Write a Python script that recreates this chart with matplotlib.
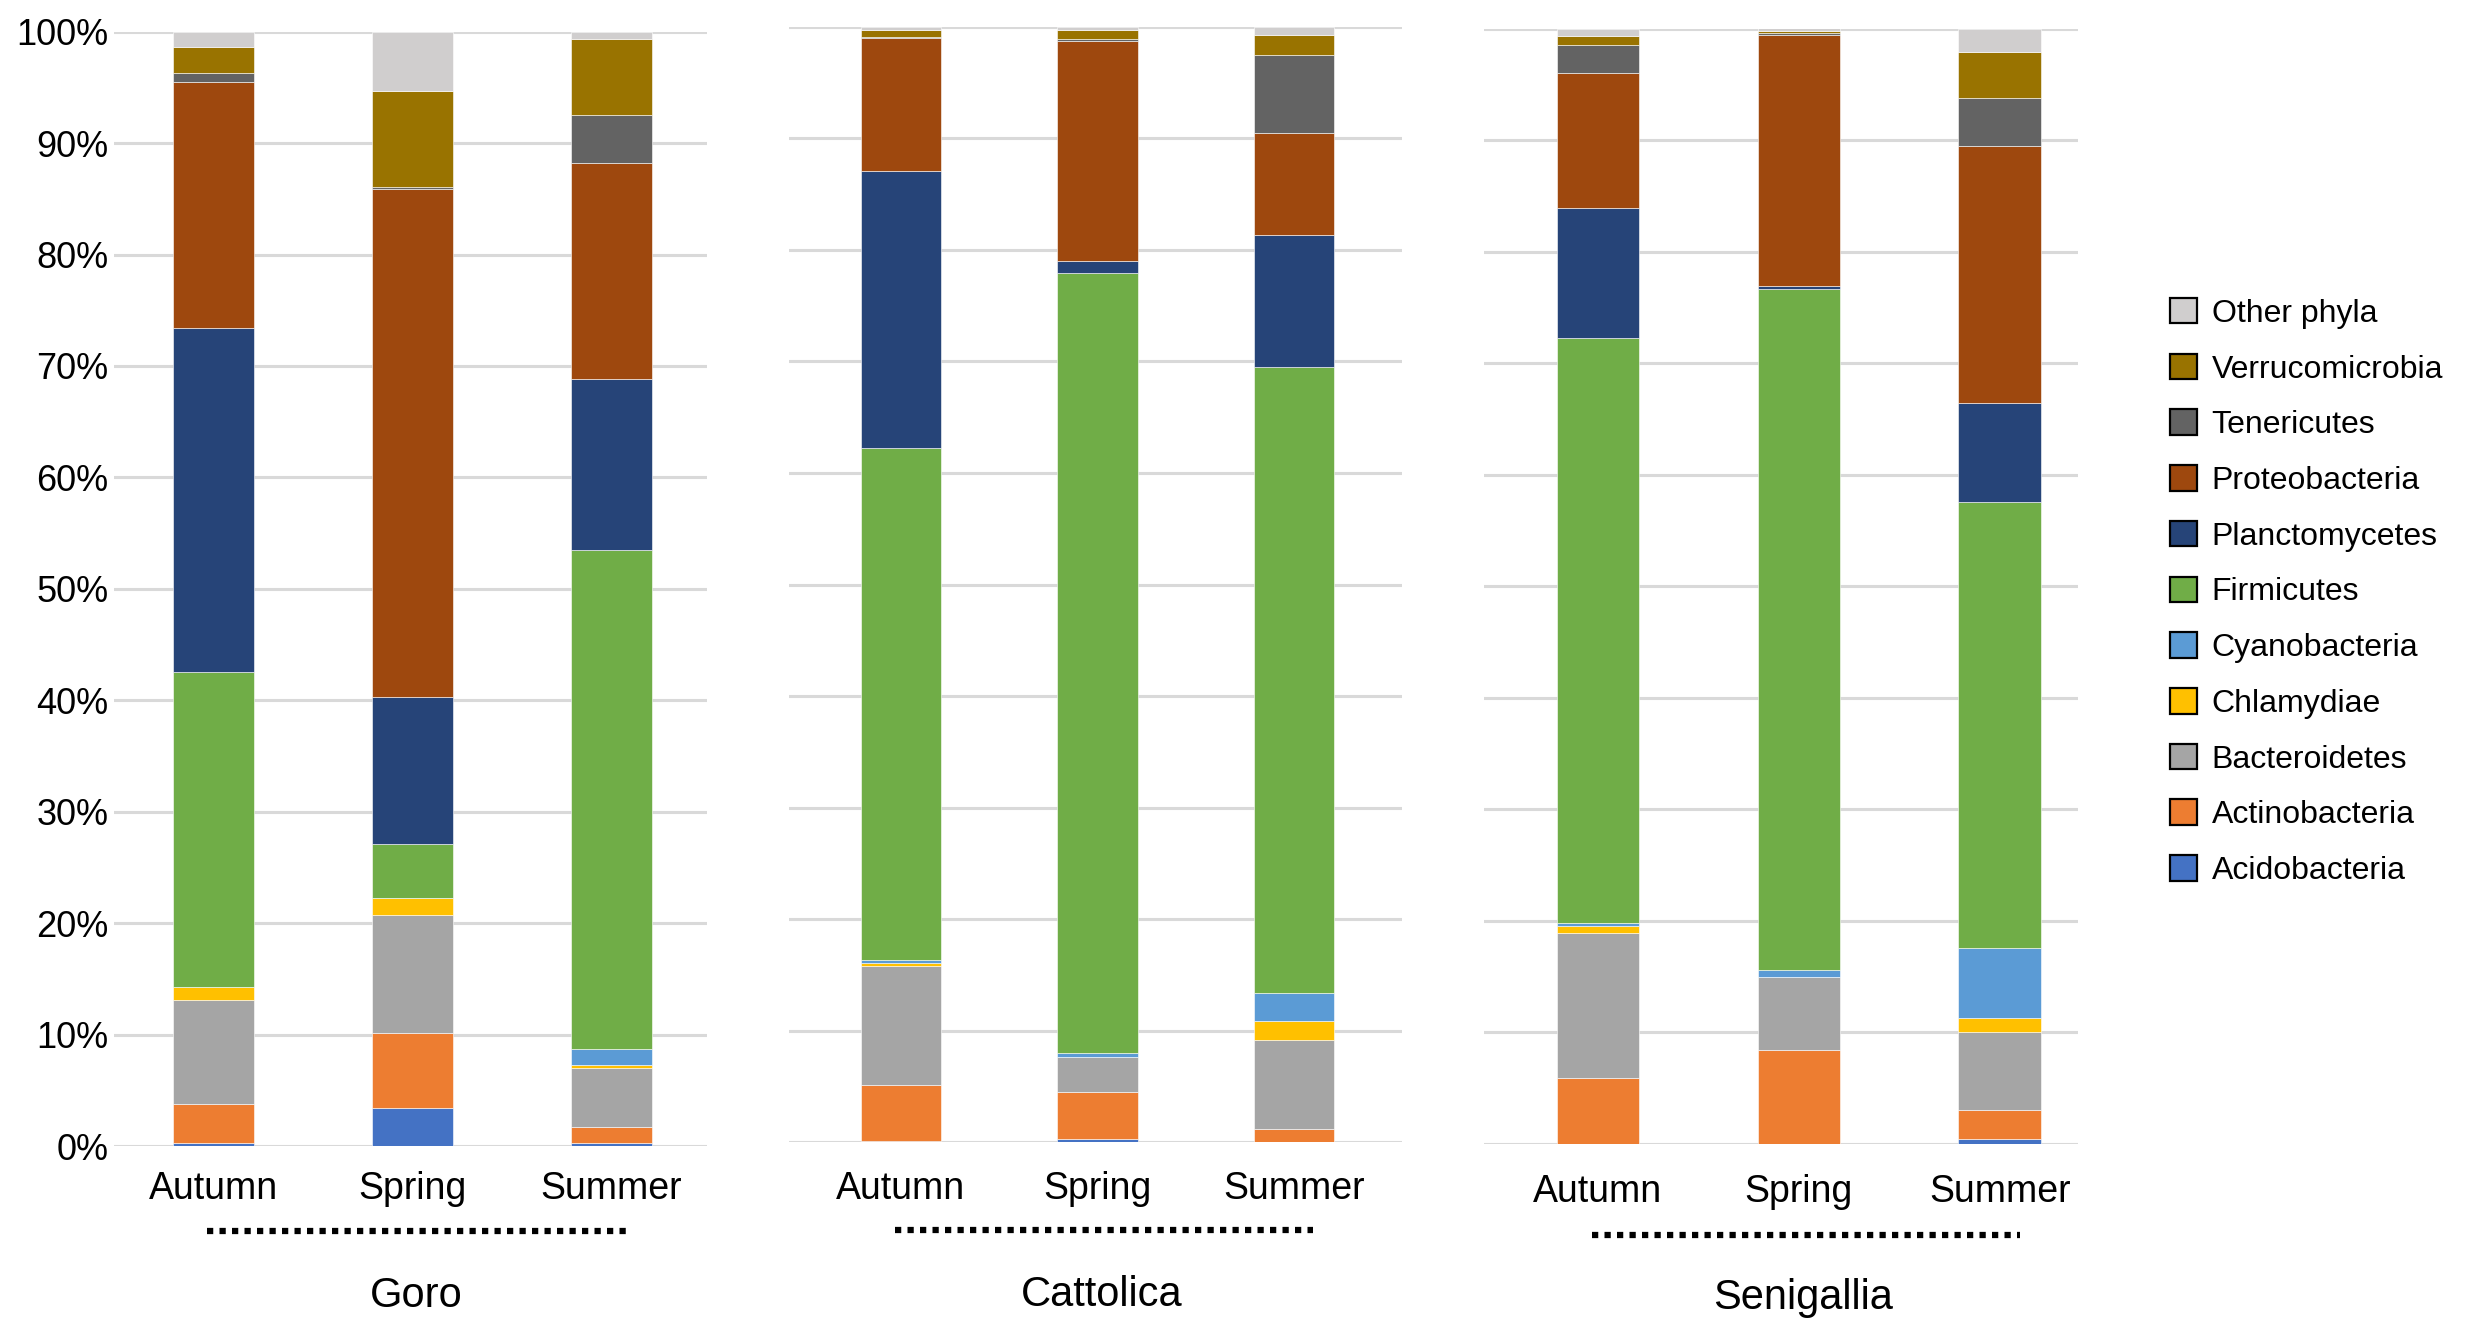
"""Phylum-level relative abundance per site and season (stacked 100% bars)."""
import matplotlib
matplotlib.use("Agg")
import matplotlib.pyplot as plt
from matplotlib.patches import Patch
from matplotlib.transforms import blended_transform_factory
import numpy as np

plt.rcParams["font.family"] = ["Liberation Sans", "DejaVu Sans"]

sites = ["Goro", "Cattolica", "Senigallia"]
seasons = ["Autumn", "Spring", "Summer"]

# relative abundance (%), order: Goro A/Sp/Su, Cattolica A/Sp/Su, Senigallia A/Sp/Su
acidobacteria   = [0.25, 3.45, 0.25, 0.10, 0.30, 0.00, 0.00, 0.00, 0.40]
actinobacteria  = [3.50, 6.75, 1.45, 5.00, 4.15, 1.15, 5.85, 8.40, 2.60]
bacteroidetes   = [9.40, 10.50, 5.30, 10.70, 3.20, 8.05, 13.05, 6.55, 7.00]
chlamydiae      = [1.10, 1.60, 0.30, 0.30, 0.00, 1.70, 0.65, 0.00, 1.25]
cyanobacteria   = [0.00, 0.00, 1.40, 0.20, 0.35, 2.50, 0.20, 0.65, 6.25]
firmicutes      = [28.30, 4.80, 44.80, 45.90, 69.90, 56.10, 52.45, 61.00, 40.00]
planctomycetes  = [30.90, 13.20, 15.30, 24.90, 1.10, 11.80, 11.70, 0.30, 8.90]
proteobacteria  = [22.00, 45.60, 19.40, 11.90, 19.70, 9.20, 12.10, 22.50, 23.10]
tenericutes     = [0.80, 0.20, 4.30, 0.05, 0.20, 7.00, 2.50, 0.20, 4.30]
verrucomicrobia = [2.40, 8.60, 6.80, 0.65, 0.80, 1.80, 0.80, 0.20, 4.10]
other_phyla     = [1.35, 5.30, 0.70, 0.30, 0.30, 0.70, 0.70, 0.20, 2.10]

phyla = ["Acidobacteria", "Actinobacteria", "Bacteroidetes", "Chlamydiae",
         "Cyanobacteria", "Firmicutes", "Planctomycetes", "Proteobacteria",
         "Tenericutes", "Verrucomicrobia", "Other phyla"]
series = [acidobacteria, actinobacteria, bacteroidetes, chlamydiae, cyanobacteria,
          firmicutes, planctomycetes, proteobacteria, tenericutes, verrucomicrobia,
          other_phyla]
colors = ["#4472C4", "#ED7D31", "#A5A5A5", "#FFC000", "#5B9BD5", "#70AD47",
          "#264478", "#9E480E", "#636363", "#997300", "#D0CECE"]

W, H = 2477, 1318
# panel boxes in pixels: left, right, top (100%), bottom (0%), x limits,
# tick label pad (pt), dotted line offset and site name baseline offset (px below 0%)
panels = [
    (113.9, 707.0, 31.6, 1146.2, (-0.50, 2.48), 17.5, 84.5, 161.0),
    (788.9, 1401.9, 26.9, 1142.1, (-0.57, 2.55), 20.5, 87.5, 163.5),
    (1484.3, 2078.0, 28.5, 1143.5, (-0.565, 2.39), 22.0, 91.0, 165.5),
]


def main():
    fig = plt.figure(figsize=(W / 100, H / 100), dpi=100)
    data = np.array(series)
    x = np.arange(len(seasons))

    for p, site in enumerate(sites):
        left, right, top, bottom, xlim, tpad, dot_off, name_off = panels[p]
        ax_h = bottom - top
        ax = fig.add_axes([left / W, 1 - bottom / H, (right - left) / W, ax_h / H])
        vals = data[:, p * 3:(p + 1) * 3]
        base = np.zeros(len(seasons))
        for k in range(len(phyla)):
            ax.bar(x, vals[k], 0.41, bottom=base, color=colors[k],
                   edgecolor="white", linewidth=0.4, zorder=3)
            base += vals[k]

        ax.set_xlim(*xlim)
        ax.set_ylim(0, 100)
        ax.set_yticks(np.arange(0, 101, 10))
        ax.yaxis.grid(True, color="#D9D9D9", linewidth=2.2, zorder=0)
        ax.set_axisbelow(True)
        for s in ax.spines.values():
            s.set_visible(False)
        ax.set_xticks(x)
        ax.set_xticklabels(seasons, fontsize=27)
        ax.tick_params(axis="x", length=0, pad=tpad)
        if p == 0:
            ax.set_yticklabels([f"{v}%" for v in range(0, 101, 10)], fontsize=26)
            ax.tick_params(axis="y", length=0, pad=4)
        else:
            ax.tick_params(axis="y", length=0, labelleft=False)

        # dotted bracket under the season labels, then the site name
        tr = blended_transform_factory(ax.transData, ax.transAxes)
        y_dot = -dot_off / ax_h
        ax.plot([-0.03, 2.1], [y_dot, y_dot], transform=tr, color="black",
                linewidth=4.5, linestyle=(0, (1, 1)), clip_on=False,
                solid_capstyle="butt", dash_capstyle="butt")
        ax.text(1.02, -name_off / ax_h, site, transform=tr, fontsize=30,
                ha="center", va="baseline")

    handles = [Patch(facecolor=c, edgecolor="black", linewidth=1.6)
               for c in colors[::-1]]
    fig.legend(handles, phyla[::-1], loc="center left",
               bbox_to_anchor=(2170 / W, 1 - 592 / H), frameon=False,
               fontsize=23, handlelength=0.85, handleheight=0.85,
               handletextpad=0.45, labelspacing=0.78, borderpad=0,
               borderaxespad=0)

    fig.savefig("out.png", dpi=100)
    plt.close(fig)


if __name__ == "__main__":
    main()
